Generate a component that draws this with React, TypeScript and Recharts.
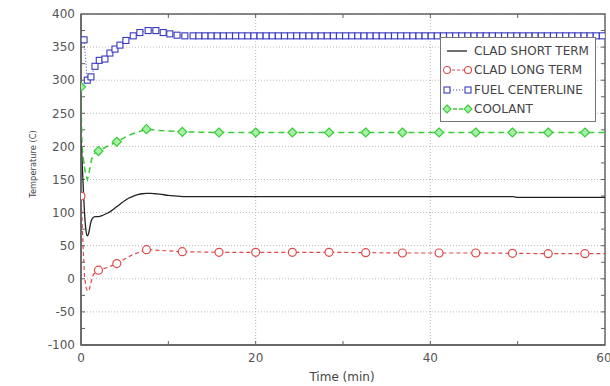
import React from "react";
import {
  LineChart,
  Line,
  XAxis,
  YAxis,
  CartesianGrid,
  Legend,
  ReferenceArea,
  ReferenceLine,
} from "recharts";

// ---------- data ----------
const xTicks = [0, 20, 40, 60];
const yTicks = [-100, -50, 0, 50, 100, 150, 200, 250, 300, 350, 400];
const xMinorTicks = [10, 20, 30, 40, 50];
const yMinorTicks = [-75, -50, -25, 0, 25, 50, 75, 100, 125, 150, 175, 200, 225, 250, 275, 300, 325, 350, 375];

const seriesNames = ["CLAD SHORT TERM", "CLAD LONG TERM", "FUEL CENTERLINE", "COOLANT"];

const shortTermT = [0, 0.1, 0.25, 0.4, 0.55, 0.72, 0.9, 1.1, 1.35, 1.6, 2.0, 2.5, 3.0, 3.5, 4.0, 4.5, 5.0, 5.5, 6.0, 6.5, 7.0, 7.5, 8.0, 8.5, 9.0, 10.0, 11.0, 12.0, 14.0, 20.0, 30.0, 40.0, 49.5, 50.0, 60.0];
const shortTermV = [210, 185, 140, 100, 75, 65, 70, 84, 92, 94, 94, 96, 99, 103, 108, 113, 118, 122, 125, 127, 128.5, 129, 129, 128.5, 128, 126, 125, 124, 124, 124, 124, 124, 124, 123, 123];

const markerTimes = [0, 2.0, 4.1, 7.5, 11.6, 15.8, 20.0, 24.2, 28.4, 32.6, 36.8, 41.0, 45.2, 49.4, 53.5, 57.7];

const longTermT = [0, 0.1, 0.25, 0.4, 0.55, 0.75, 0.95, 1.15, 1.4, 1.7, 2.0, 3.0, 4.1, 5.0, 6.0, 7.5, 9.0, 11.6, 15.8, 20.0, 24.2, 28.4, 32.6, 36.8, 41.0, 45.2, 49.4, 53.5, 57.7, 60.0];
const longTermV = [125, 95, 45, 5, -12, -19, -16, -5, 6, 11, 13, 17, 23, 30, 37, 44, 43, 41, 40, 40, 40, 40, 39.5, 39, 39, 39, 38.5, 38, 38, 38];

const coolantT = [0, 0.05, 0.12, 0.35, 0.55, 0.74, 0.95, 1.2, 1.5, 2.0, 3.0, 4.1, 5.5, 7.5, 9.0, 11.6, 15.8, 20.0, 24.2, 28.4, 32.6, 36.8, 41.0, 45.2, 49.4, 53.5, 57.7, 60.0];
const coolantV = [290, 240, 200, 172, 157, 150, 162, 180, 189, 193, 200, 207, 217, 226, 224, 222, 221, 221, 221, 221, 221, 221, 221, 221, 221, 221, 221, 221];

const fuelT = [0.35, 0.72, 1.14, 1.6, 2.09, 2.74, 3.31, 3.89, 4.46, 5.14, 5.98, 6.74, 7.69, 8.57, 9.41, 10.17, 11.0, 11.89, 12.83,
  13.5, 14.2, 14.9, 15.6, 16.3, 17.0, 17.7, 18.4, 19.1, 19.8, 20.5, 21.2, 21.9, 22.6, 23.3, 24.0, 24.7, 25.4, 26.1, 26.8,
  27.5, 28.2, 28.9, 29.6, 30.3, 31.0, 31.7, 32.4, 33.1, 33.8, 34.5, 35.2, 35.9, 36.6, 37.3, 38.0, 38.7, 39.4, 40.1, 40.8,
  41.5, 42.2, 42.9, 43.6, 44.3, 45.0, 45.7, 46.4, 47.1, 47.8, 48.5, 49.2, 49.9, 50.6, 51.3, 52.0, 52.7, 53.4, 54.1, 54.8,
  55.5, 56.2, 56.9, 57.6, 58.3, 59.0, 59.7];
const fuelV = [361, 300, 305, 321, 330, 332, 341, 347, 353, 360, 367, 372, 375, 375, 372, 370, 368, 367, 367,
  367, 367, 367, 367, 367, 367, 367, 367, 367, 367, 367, 367, 367, 367, 367, 367, 367, 367, 367, 367,
  367, 367, 367, 367, 367, 367, 367, 367, 367, 367, 367, 367, 367, 367, 367, 367, 367, 367, 367, 367,
  367, 367, 367, 367, 367, 367, 367, 367, 367, 367, 367, 367, 367, 367, 367, 367, 367, 367, 367, 367,
  367, 367, 367, 367, 367, 367, 367];

// ---------- styles ----------
const FONT = "'DejaVu Sans', Verdana, sans-serif";
const BLACK = "#222222";
const RED = "#dd4a4a";
const BLUE = "#3838c0";
const GREEN = "#38cc38";
const GREEN_FILL = "#a8f0a8";
const FRAME = "#606060";
const TEXT = "#555555";

const toRows = (t: number[], v: number[]) => t.map((x, i) => ({ t: x, v: v[i] }));

const shortRows = toRows(shortTermT, shortTermV);
const longRows = toRows(longTermT, longTermV);
const coolRows = toRows(coolantT, coolantV);
const fuelRows = toRows(fuelT, fuelV);

const RedDot = (props: any) => {
  const { cx, cy, payload, index } = props;
  if (!markerTimes.includes(payload.t)) return <g key={`r${index}`} />;
  return <circle key={`r${index}`} cx={cx} cy={cy} r={4} fill="#fff" stroke={RED} strokeWidth={1.2} />;
};

const GreenDot = (props: any) => {
  const { cx, cy, payload, index } = props;
  if (!markerTimes.includes(payload.t)) return <g key={`g${index}`} />;
  const s = 4.5;
  return (
    <path
      key={`g${index}`}
      d={`M${cx},${cy - s}L${cx + s},${cy}L${cx},${cy + s}L${cx - s},${cy}Z`}
      fill={GREEN_FILL}
      stroke={GREEN}
      strokeWidth={1.2}
    />
  );
};

const BlueDot = (props: any) => {
  const { cx, cy, index } = props;
  return <rect key={`b${index}`} x={cx - 3} y={cy - 3} width={6} height={6} fill="#fff" stroke={BLUE} strokeWidth={1.1} />;
};

const LegendIcon = ({ i }: { i: number }) => {
  if (i === 0)
    return (
      <svg width={32} height={12}>
        <line x1={6} y1={6} x2={26} y2={6} stroke={BLACK} strokeWidth={1.3} />
      </svg>
    );
  if (i === 1)
    return (
      <svg width={32} height={12}>
        <line x1={6} y1={6} x2={27} y2={6} stroke={RED} strokeWidth={1.2} strokeDasharray="3 2" />
        <circle cx={6} cy={6} r={3.5} fill="#fff" stroke={RED} strokeWidth={1.1} />
        <circle cx={27} cy={6} r={3.5} fill="#fff" stroke={RED} strokeWidth={1.1} />
      </svg>
    );
  if (i === 2)
    return (
      <svg width={32} height={12}>
        <line x1={6} y1={6} x2={27} y2={6} stroke={BLUE} strokeWidth={1} strokeDasharray="1 2" />
        <rect x={3} y={3} width={6} height={6} fill="#fff" stroke={BLUE} strokeWidth={1.1} />
        <rect x={24} y={3} width={6} height={6} fill="#fff" stroke={BLUE} strokeWidth={1.1} />
      </svg>
    );
  return (
    <svg width={32} height={12}>
      <line x1={6} y1={6} x2={27} y2={6} stroke={GREEN} strokeWidth={1.4} strokeDasharray="4 2" />
      <path d="M6,2L10,6L6,10L2,6Z" fill={GREEN_FILL} stroke={GREEN} strokeWidth={1.1} />
      <path d="M27,2L31,6L27,10L23,6Z" fill={GREEN_FILL} stroke={GREEN} strokeWidth={1.1} />
    </svg>
  );
};

const renderLegend = () => (
  <div
    style={{
      width: 156,
      height: 85,
      boxSizing: "border-box",
      border: "1px solid #777",
      background: "#fff",
      paddingTop: 3,
      fontFamily: FONT,
      fontSize: 12,
      color: "#444",
    }}
  >
    {seriesNames.map((name, i) => (
      <div key={name} style={{ height: 19.5, display: "flex", alignItems: "center", whiteSpace: "nowrap" }}>
        <LegendIcon i={i} />
        <span style={{ marginLeft: 1 }}>{name}</span>
      </div>
    ))}
  </div>
);

export default function App() {
  return (
    <div style={{ position: "absolute", left: 0, top: 0, width: 610, height: 386, background: "#fff" }}>
      <LineChart width={610} height={386} margin={{ top: 14, right: 5, bottom: 0, left: 0 }}>
        <CartesianGrid stroke="#bbbbbb" strokeDasharray="1 2" />
        <XAxis
          type="number"
          dataKey="t"
          domain={[0, 60]}
          ticks={xTicks}
          allowDataOverflow
          height={41}
          tickLine={false}
          tickSize={0}
          tickMargin={8}
          axisLine={{ stroke: FRAME, strokeWidth: 1.4 }}
          tick={{ fill: TEXT, fontSize: 12, fontFamily: FONT }}
          label={() => (
            <text x={342} y={381} textAnchor="middle" fill="#444" fontSize={12} fontFamily={FONT}>
              Time (min)
            </text>
          )}
        />
        <YAxis
          type="number"
          domain={[-100, 400]}
          ticks={yTicks}
          allowDataOverflow
          width={81}
          tickLine={false}
          tickSize={0}
          tickMargin={6}
          axisLine={{ stroke: FRAME, strokeWidth: 1.4 }}
          tick={{ fill: TEXT, fontSize: 12, fontFamily: FONT }}
          label={() => (
            <text
              x={33}
              y={164}
              transform="rotate(-90 33 164)"
              textAnchor="middle"
              dominantBaseline="central"
              fill="#444"
              fontSize={8.3}
              fontFamily={FONT}
            >
              Temperature (C)
            </text>
          )}
        />
        <ReferenceArea x1={0} x2={60} y1={-100} y2={400} fill="none" stroke={FRAME} strokeWidth={1.4} />
        {xMinorTicks.map((t) => (
          <ReferenceLine key={`xb${t}`} segment={[{ x: t, y: -100 }, { x: t, y: -94 }]} stroke={FRAME} strokeWidth={1} />
        ))}
        {xMinorTicks.map((t) => (
          <ReferenceLine key={`xt${t}`} segment={[{ x: t, y: 400 }, { x: t, y: 394 }]} stroke={FRAME} strokeWidth={1} />
        ))}
        {yMinorTicks.map((v) => (
          <ReferenceLine key={`yl${v}`} segment={[{ x: 0, y: v }, { x: 0.46, y: v }]} stroke={FRAME} strokeWidth={1} />
        ))}
        {yMinorTicks.map((v) => (
          <ReferenceLine key={`yr${v}`} segment={[{ x: 59.54, y: v }, { x: 60, y: v }]} stroke={FRAME} strokeWidth={1} />
        ))}
        <Line
          data={fuelRows}
          dataKey="v"
          name={seriesNames[2]}
          type="linear"
          stroke={BLUE}
          strokeWidth={1}
          strokeDasharray="1 2"
          dot={BlueDot}
          isAnimationActive={false}
        />
        <Line
          data={coolRows}
          dataKey="v"
          name={seriesNames[3]}
          type="linear"
          stroke={GREEN}
          strokeWidth={1.5}
          strokeDasharray="6 4"
          dot={GreenDot}
          isAnimationActive={false}
        />
        <Line
          data={shortRows}
          dataKey="v"
          name={seriesNames[0]}
          type="monotone"
          stroke={BLACK}
          strokeWidth={1.3}
          dot={false}
          isAnimationActive={false}
        />
        <Line
          data={longRows}
          dataKey="v"
          name={seriesNames[1]}
          type="linear"
          stroke={RED}
          strokeWidth={1.2}
          strokeDasharray="4 3"
          dot={RedDot}
          isAnimationActive={false}
        />
        <Legend
          layout="vertical"
          align="center"
          verticalAlign="middle"
          content={renderLegend}
          wrapperStyle={{ position: "absolute", left: 440, top: 37, width: 156, height: 85 }}
        />
      </LineChart>
    </div>
  );
}
